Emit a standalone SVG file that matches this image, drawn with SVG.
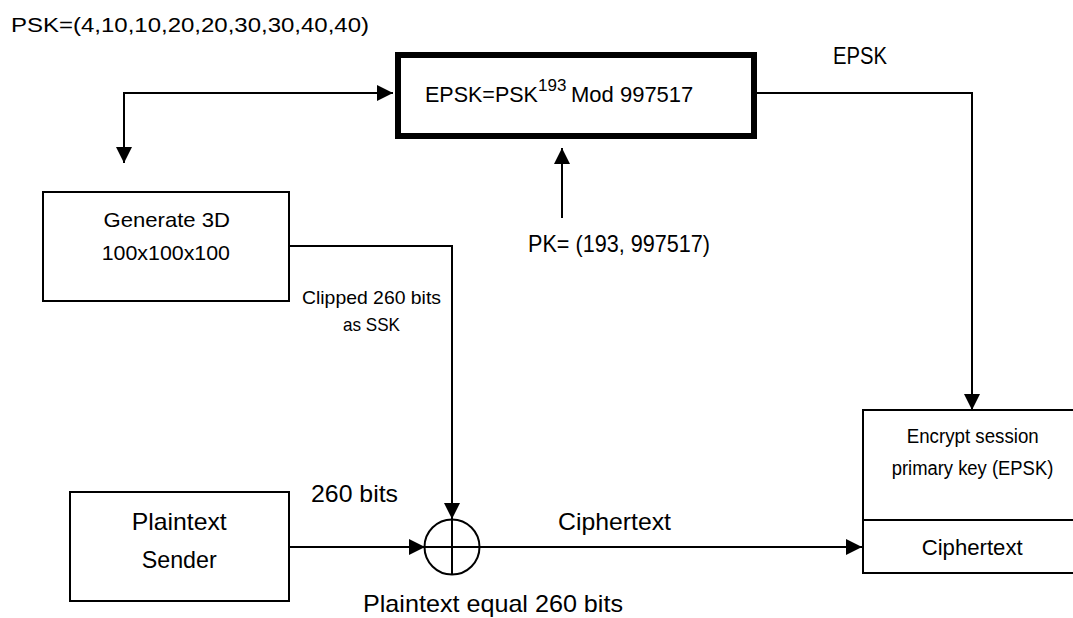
<svg xmlns="http://www.w3.org/2000/svg" width="1073" height="618" viewBox="0 0 1073 618">
  <style>
    .box { fill: #fff; stroke: #000; stroke-width: 2; }
    .thick { fill: #fff; stroke: #000; stroke-width: 6; }
    .ln { fill: none; stroke: #000; stroke-width: 2; }
    text { font-family: "Liberation Sans", Arial, sans-serif; fill: #000; }
  </style>
  <defs>
    <marker id="arr" markerUnits="userSpaceOnUse" markerWidth="16" markerHeight="16" refX="16" refY="8" orient="auto-start-reverse">
      <path d="M0,0 L16,8 L0,16 z" fill="#000"/>
    </marker>
  </defs>
  <rect width="1073" height="618" fill="#fff"/>

  <g id="connectors">
    <path class="ln" d="M393,93 H124 V163" marker-start="url(#arr)" marker-end="url(#arr)"/>
    <path class="ln" d="M757,93 H972 V410" marker-end="url(#arr)"/>
    <path class="ln" d="M562,218 V148" marker-end="url(#arr)"/>
    <path class="ln" d="M289,246 H452 V519" marker-end="url(#arr)"/>
    <path class="ln" d="M289,547 H425" marker-end="url(#arr)"/>
    <path class="ln" d="M480,547 H862" marker-end="url(#arr)"/>
  </g>

  <g id="psk-label">
    <text x="11" y="32" font-size="20" textLength="358" lengthAdjust="spacingAndGlyphs">PSK=(4,10,10,20,20,30,30,40,40)</text>
  </g>

  <g id="epsk-box">
    <rect class="thick" x="398" y="55" width="356" height="81"/>
    <text x="425" y="102" font-size="21.5">EPSK=PSK<tspan x="538" y="91" font-size="17">193</tspan><tspan x="571" y="102" font-size="22">Mod 997517</tspan></text>
  </g>

  <g id="epsk-label">
    <text x="833" y="64" font-size="23" textLength="54" lengthAdjust="spacingAndGlyphs">EPSK</text>
  </g>

  <g id="generate">
    <rect class="box" x="43" y="192" width="246" height="109"/>
    <text x="103.5" y="227" font-size="21" textLength="126.5" lengthAdjust="spacingAndGlyphs">Generate 3D</text>
    <text x="101.7" y="260" font-size="21" textLength="128.3" lengthAdjust="spacingAndGlyphs">100x100x100</text>
  </g>

  <g id="pk-label">
    <text x="528" y="252" font-size="24" textLength="182" lengthAdjust="spacingAndGlyphs">PK= (193, 997517)</text>
  </g>

  <g id="clipped-label">
    <text x="302" y="304" font-size="19" textLength="139" lengthAdjust="spacingAndGlyphs">Clipped 260 bits</text>
    <text x="343" y="331" font-size="19" textLength="57" lengthAdjust="spacingAndGlyphs">as SSK</text>
  </g>

  <g id="plaintext-sender">
    <rect class="box" x="70" y="492" width="219" height="109"/>
    <text x="131.7" y="530" font-size="24" textLength="95" lengthAdjust="spacingAndGlyphs">Plaintext</text>
    <text x="141.7" y="568" font-size="24" textLength="75" lengthAdjust="spacingAndGlyphs">Sender</text>
  </g>

  <g id="bits-label">
    <text x="311" y="502" font-size="24" textLength="87" lengthAdjust="spacingAndGlyphs">260 bits</text>
  </g>

  <g id="xor">
    <circle class="box" cx="452" cy="547" r="27.5"/>
    <line class="ln" x1="452" y1="519.5" x2="452" y2="574.5"/>
    <line class="ln" x1="424.5" y1="547" x2="479.5" y2="547"/>
    <text x="363" y="612" font-size="24" textLength="260" lengthAdjust="spacingAndGlyphs">Plaintext equal 260 bits</text>
  </g>

  <g id="ciphertext-label">
    <text x="558" y="530" font-size="24" textLength="113" lengthAdjust="spacingAndGlyphs">Ciphertext</text>
  </g>

  <g id="encrypt-box">
    <rect class="box" x="863" y="410" width="215" height="163"/>
    <line class="ln" x1="863" y1="520" x2="1078" y2="520"/>
    <text x="906.7" y="443" font-size="20" textLength="132" lengthAdjust="spacingAndGlyphs">Encrypt session</text>
    <text x="891.7" y="475" font-size="20" textLength="161.6" lengthAdjust="spacingAndGlyphs">primary key (EPSK)</text>
    <text x="921.7" y="555" font-size="22" textLength="101" lengthAdjust="spacingAndGlyphs">Ciphertext</text>
  </g>
</svg>
